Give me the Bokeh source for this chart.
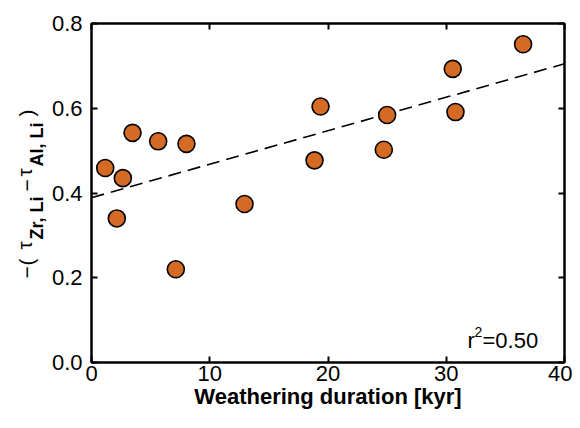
import numpy as np
from bokeh.plotting import figure
from bokeh.layouts import row
from bokeh.models import (ColumnDataSource, LinearAxis, Range1d, FixedTicker,
                          PrintfTickFormatter, Label)
from bokeh.embed import file_html
from bokeh.resources import INLINE

# Data
duration_kyr = [1.16, 2.14, 2.65, 3.47, 5.64, 8.03, 7.13, 12.94, 18.86, 19.37,
                24.72, 25.0, 30.55, 30.78, 36.5]
tau_diff = [0.459, 0.340, 0.435, 0.542, 0.522, 0.516, 0.220, 0.374, 0.477, 0.604,
            0.502, 0.584, 0.693, 0.591, 0.751]
fit_intercept = 0.389
fit_slope = 0.0079
fit_x = [0, 40]
x_ticks = [0, 10, 20, 30, 40]
y_ticks = [0.0, 0.2, 0.4, 0.6, 0.8]

FONT = "Liberation Sans"
TOP, BOT = 23, 58          # borders above / below the frames
FH = 339                   # frame height
LW = 48                    # width of the y-label strip
FB = TOP + FH              # frame bottom in page pixels

# ---- strip holding the y-axis label (with subscripts) ----
lab = figure(frame_width=LW, frame_height=FH, output_backend="svg",
             toolbar_location=None,
             x_range=Range1d(0, LW), y_range=Range1d(0, FH),
             x_axis_location=None, y_axis_location=None,
             min_border=0, min_border_left=0, min_border_right=0,
             min_border_top=TOP, min_border_bottom=BOT)
lab.grid.visible = False
lab.outline_line_color = None
lab.background_fill_color = "white"
lab.border_fill_color = "white"

def ylab(text, img_x, img_y, size, style="normal"):
    lab.add_layout(Label(x=img_x, y=FB - img_y, x_units="screen", y_units="screen",
                         text=text, angle=np.pi / 2, text_font=FONT,
                         text_font_size=size, text_font_style=style,
                         text_align="left", text_baseline="alphabetic",
                         text_color="black"))

ylab("\u2212", 26, 278, "21px")
ylab("(", 26, 265, "21px")
ylab("\u03c4", 24, 249, "21px")
ylab("Zr, Li", 36, 239, "18px", "bold")
ylab("\u2212", 26, 191, "21px")
ylab("\u03c4", 24, 176, "21px")
ylab("Al, Li", 36, 166, "18px", "bold")
ylab(")", 26, 116, "21px")

# ---- main plot ----
p = figure(frame_width=473, frame_height=FH, output_backend="svg",
           toolbar_location=None,
           x_range=Range1d(0, 40), y_range=Range1d(0, 0.8),
           min_border_left=91 - LW, min_border_right=8, min_border_top=TOP,
           min_border_bottom=BOT)
p.grid.visible = False
p.outline_line_color = "black"
p.outline_line_width = 2
p.background_fill_color = "white"
p.border_fill_color = "white"

fit_y = [fit_intercept + fit_slope * x for x in fit_x]
p.line(fit_x, fit_y, line_color="black", line_width=1.6, line_dash="13 7")

src = ColumnDataSource(dict(x=duration_kyr, y=tau_diff))
p.scatter("x", "y", source=src, size=17, fill_color="#D46A24",
          line_color="black", line_width=1.6)

def style_axis(ax, show_labels):
    ax.axis_line_width = 2
    ax.axis_line_color = "black"
    ax.major_tick_in = 6
    ax.major_tick_out = 0
    ax.major_tick_line_width = 2
    ax.minor_tick_line_color = None
    ax.major_label_text_font = FONT
    ax.major_label_text_font_size = "22px"
    ax.major_label_text_color = "black"
    if not show_labels:
        ax.major_label_text_font_size = "0px"
        ax.major_label_text_alpha = 0

xax = p.xaxis[0]
xax.ticker = FixedTicker(ticks=x_ticks)
style_axis(xax, True)
xax.major_label_standoff = 3
xax.axis_label = "Weathering duration [kyr]"
xax.axis_label_text_font = FONT
xax.axis_label_text_font_style = "bold"
xax.axis_label_text_font_size = "22px"
xax.axis_label_text_color = "black"
xax.axis_label_standoff = 0

yax = p.yaxis[0]
yax.ticker = FixedTicker(ticks=y_ticks)
yax.formatter = PrintfTickFormatter(format="%.1f")
style_axis(yax, True)
yax.major_label_standoff = 9

top = LinearAxis(ticker=FixedTicker(ticks=x_ticks))
style_axis(top, False)
p.add_layout(top, "above")
right = LinearAxis(ticker=FixedTicker(ticks=y_ticks))
style_axis(right, False)
p.add_layout(right, "right")

# r^2 annotation (frame-relative screen units)
FL = 91
def note(text, img_x, img_y, size):
    p.add_layout(Label(x=img_x - FL, y=FB - img_y, x_units="screen", y_units="screen",
                       text=text, text_font=FONT, text_font_size=size,
                       text_baseline="alphabetic", text_color="black"))

note("r", 467, 340, "22px")
note("2", 474, 331, "14px")
note("=0.50", 482, 340, "22px")

open("out.html", "w").write(file_html(row(lab, p), INLINE))
